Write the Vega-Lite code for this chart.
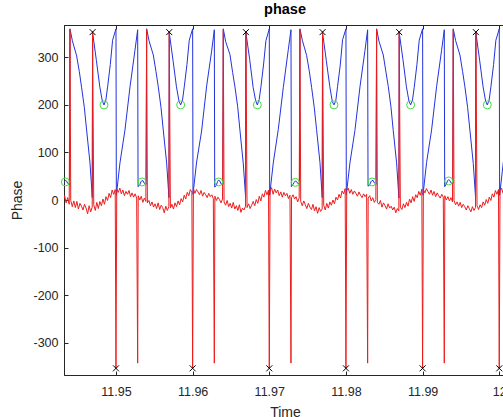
{
  "$schema": "https://vega.github.io/schema/vega-lite/v6.json",
  "width": 442,
  "height": 350,
  "autosize": {"type": "none"},
  "padding": {"left": 64, "top": 25, "right": 0, "bottom": 42},
  "background": "white",
  "title": {"text": "phase", "font": "Liberation Sans", "fontSize": 14.5, "fontWeight": "bold", "color": "#000000", "anchor": "middle", "baseline": "alphabetic", "offset": 9, "dy": 13},
  "config": {
    "view": {"stroke": "#262626", "strokeWidth": 1},
    "axis": {"labelFont": "Liberation Sans", "labelFontSize": 12.5, "labelColor": "#262626", "titleFont": "Liberation Sans", "titleFontSize": 14, "titleColor": "#262626", "titleFontWeight": "normal", "domainColor": "#262626", "tickColor": "#262626", "tickSize": -4, "grid": false}
  },
  "datasets": {
    "blue": [
      {"t":11.94288,"v":28},{"t":11.9431,"v":32},{"t":11.94325,"v":38},{"t":11.9434,"v":41},{"t":11.94355,"v":40},{"t":11.9437,"v":35},{"t":11.94394,"v":33},{"t":11.944,"v":360},{"t":11.94431,"v":335},{"t":11.94487,"v":303},{"t":11.94522,"v":270},{"t":11.94552,"v":236},{"t":11.94587,"v":195},{"t":11.94617,"v":147},{"t":11.94661,"v":78},{"t":11.94691,"v":5},{"t":11.94695,"v":352},{"t":11.94744,"v":294},{"t":11.94789,"v":238},{"t":11.94822,"v":208},{"t":11.94844,"v":200},{"t":11.94868,"v":210},{"t":11.94891,"v":238},{"t":11.94926,"v":285},{"t":11.94956,"v":336},
      {"t":11.95,"v":360},{"t":11.95005,"v":10},{"t":11.95052,"v":78},{"t":11.95117,"v":147},{"t":11.95183,"v":238},{"t":11.95248,"v":315},{"t":11.95283,"v":358},{"t":11.95288,"v":28},{"t":11.9531,"v":32},{"t":11.95325,"v":38},{"t":11.9534,"v":41},{"t":11.95355,"v":40},{"t":11.9537,"v":35},{"t":11.95394,"v":33},{"t":11.954,"v":360},{"t":11.95431,"v":335},{"t":11.95487,"v":305},{"t":11.95522,"v":270},{"t":11.95552,"v":238},{"t":11.95587,"v":195},{"t":11.95617,"v":147},{"t":11.95661,"v":78},{"t":11.95691,"v":5},{"t":11.95695,"v":352},{"t":11.95744,"v":294},{"t":11.95789,"v":238},{"t":11.95822,"v":208},{"t":11.95844,"v":200},{"t":11.95868,"v":210},{"t":11.95891,"v":238},{"t":11.95926,"v":285},{"t":11.95956,"v":336},
      {"t":11.96,"v":360},{"t":11.96005,"v":12},{"t":11.96052,"v":80},{"t":11.96117,"v":145},{"t":11.96183,"v":240},{"t":11.96248,"v":313},{"t":11.96283,"v":358},{"t":11.96288,"v":27},{"t":11.9631,"v":31},{"t":11.96325,"v":39},{"t":11.9634,"v":42},{"t":11.96355,"v":40},{"t":11.9637,"v":34},{"t":11.96394,"v":33},{"t":11.964,"v":360},{"t":11.96431,"v":333},{"t":11.96487,"v":306},{"t":11.96522,"v":268},{"t":11.96552,"v":238},{"t":11.96587,"v":197},{"t":11.96617,"v":147},{"t":11.96661,"v":76},{"t":11.96691,"v":6},{"t":11.96695,"v":352},{"t":11.96744,"v":296},{"t":11.96789,"v":237},{"t":11.96822,"v":209},{"t":11.96844,"v":200},{"t":11.96868,"v":211},{"t":11.96891,"v":238},{"t":11.96926,"v":286},{"t":11.96956,"v":335},
      {"t":11.97,"v":360},{"t":11.97005,"v":10},{"t":11.97052,"v":78},{"t":11.97117,"v":148},{"t":11.97183,"v":237},{"t":11.97248,"v":316},{"t":11.97283,"v":358},{"t":11.97288,"v":28},{"t":11.9731,"v":33},{"t":11.97325,"v":37},{"t":11.9734,"v":40},{"t":11.97355,"v":39},{"t":11.9737,"v":35},{"t":11.97394,"v":34},{"t":11.974,"v":360},{"t":11.97431,"v":336},{"t":11.97487,"v":304},{"t":11.97522,"v":271},{"t":11.97552,"v":237},{"t":11.97587,"v":194},{"t":11.97617,"v":148},{"t":11.97661,"v":79},{"t":11.97691,"v":5},{"t":11.97695,"v":352},{"t":11.97744,"v":293},{"t":11.97789,"v":239},{"t":11.97822,"v":207},{"t":11.97844,"v":200},{"t":11.97868,"v":209},{"t":11.97891,"v":239},{"t":11.97926,"v":284},{"t":11.97956,"v":337},
      {"t":11.98,"v":360},{"t":11.98005,"v":11},{"t":11.98052,"v":78},{"t":11.98117,"v":146},{"t":11.98183,"v":238},{"t":11.98248,"v":314},{"t":11.98283,"v":358},{"t":11.98288,"v":29},{"t":11.9831,"v":32},{"t":11.98325,"v":38},{"t":11.9834,"v":41},{"t":11.98355,"v":41},{"t":11.9837,"v":36},{"t":11.98394,"v":33},{"t":11.984,"v":360},{"t":11.98431,"v":334},{"t":11.98487,"v":305},{"t":11.98522,"v":269},{"t":11.98552,"v":239},{"t":11.98587,"v":196},{"t":11.98617,"v":146},{"t":11.98661,"v":78},{"t":11.98691,"v":4},{"t":11.98695,"v":352},{"t":11.98744,"v":295},{"t":11.98789,"v":238},{"t":11.98822,"v":208},{"t":11.98844,"v":200},{"t":11.98868,"v":210},{"t":11.98891,"v":237},{"t":11.98926,"v":285},{"t":11.98956,"v":336},
      {"t":11.99,"v":360},{"t":11.99005,"v":10},{"t":11.99052,"v":79},{"t":11.99117,"v":147},{"t":11.99183,"v":239},{"t":11.99248,"v":315},{"t":11.99283,"v":358},{"t":11.99288,"v":28},{"t":11.9931,"v":34},{"t":11.99325,"v":40},{"t":11.9934,"v":43},{"t":11.99355,"v":41},{"t":11.9937,"v":36},{"t":11.99394,"v":34},{"t":11.994,"v":360},{"t":11.99431,"v":335},{"t":11.99487,"v":305},{"t":11.99522,"v":270},{"t":11.99552,"v":238},{"t":11.99587,"v":195},{"t":11.99617,"v":147},{"t":11.99661,"v":77},{"t":11.99691,"v":5},{"t":11.99695,"v":352},{"t":11.99744,"v":294},{"t":11.99789,"v":238},{"t":11.99822,"v":208},{"t":11.99844,"v":200},{"t":11.99868,"v":210},{"t":11.99891,"v":238},{"t":11.99926,"v":285},{"t":11.99956,"v":336},
      {"t":12,"v":360},{"t":12.00005,"v":10},{"t":12.00052,"v":78},{"t":12.00117,"v":147}
    ],
    "red": [
      {"t":11.9429,"v":7},{"t":11.9431,"v":-3},{"t":11.9433,"v":9},{"t":11.9435,"v":-6},{"t":11.9437,"v":5},{"t":11.9439,"v":-9},{"t":11.944,"v":358},{"t":11.9441,"v":-1},{"t":11.9443,"v":-14},{"t":11.9445,"v":-2},{"t":11.9447,"v":-16},{"t":11.9449,"v":-3},{"t":11.9451,"v":-19},{"t":11.9453,"v":-7},{"t":11.9455,"v":-13},{"t":11.9457,"v":-21},{"t":11.9459,"v":-9},{"t":11.9461,"v":-17},{"t":11.9463,"v":-29},{"t":11.9465,"v":-12},{"t":11.9467,"v":-25},{"t":11.9469,"v":-15},{"t":11.94695,"v":354},{"t":11.9471,"v":-10},{"t":11.9473,"v":-22},{"t":11.9475,"v":-5},{"t":11.9477,"v":-18},{"t":11.9479,"v":-3},{"t":11.9481,"v":-12},{"t":11.9483,"v":2},{"t":11.9485,"v":-9},{"t":11.9487,"v":7},{"t":11.9489,"v":-1},{"t":11.9491,"v":14},{"t":11.9493,"v":5},{"t":11.9495,"v":21},{"t":11.9497,"v":12},{"t":11.9499,"v":22},
      {"t":11.95,"v":-354},{"t":11.9501,"v":23},{"t":11.9503,"v":16},{"t":11.9505,"v":25},{"t":11.9507,"v":13},{"t":11.9509,"v":21},{"t":11.9511,"v":9},{"t":11.9513,"v":18},{"t":11.9515,"v":12},{"t":11.9517,"v":20},{"t":11.9519,"v":7},{"t":11.9521,"v":15},{"t":11.9523,"v":6},{"t":11.9525,"v":13},{"t":11.9527,"v":4},{"t":11.95283,"v":-343},{"t":11.9529,"v":9},{"t":11.9531,"v":0},{"t":11.9533,"v":8},{"t":11.9535,"v":-5},{"t":11.9537,"v":4},{"t":11.9539,"v":-3},{"t":11.954,"v":358},{"t":11.9541,"v":-6},{"t":11.9543,"v":-1},{"t":11.9545,"v":-12},{"t":11.9547,"v":-4},{"t":11.9549,"v":-15},{"t":11.9551,"v":-8},{"t":11.9553,"v":-18},{"t":11.9555,"v":-6},{"t":11.9557,"v":-20},{"t":11.9559,"v":-11},{"t":11.9561,"v":-16},{"t":11.9563,"v":-27},{"t":11.9565,"v":-13},{"t":11.9567,"v":-22},{"t":11.9569,"v":-14},{"t":11.95695,"v":354},{"t":11.9571,"v":-17},{"t":11.9573,"v":-9},{"t":11.9575,"v":-19},{"t":11.9577,"v":-6},{"t":11.9579,"v":-14},{"t":11.9581,"v":-2},{"t":11.9583,"v":-10},{"t":11.9585,"v":3},{"t":11.9587,"v":-4},{"t":11.9589,"v":10},{"t":11.9591,"v":2},{"t":11.9593,"v":16},{"t":11.9595,"v":9},{"t":11.9597,"v":22},{"t":11.9599,"v":17},
      {"t":11.96,"v":-354},{"t":11.9601,"v":24},{"t":11.9603,"v":14},{"t":11.9605,"v":22},{"t":11.9607,"v":17},{"t":11.9609,"v":11},{"t":11.9611,"v":20},{"t":11.9613,"v":8},{"t":11.9615,"v":16},{"t":11.9617,"v":11},{"t":11.9619,"v":5},{"t":11.9621,"v":14},{"t":11.9623,"v":7},{"t":11.9625,"v":11},{"t":11.9627,"v":3},{"t":11.96283,"v":-343},{"t":11.9629,"v":8},{"t":11.9631,"v":-1},{"t":11.9633,"v":6},{"t":11.9635,"v":1},{"t":11.9637,"v":-6},{"t":11.9639,"v":2},{"t":11.964,"v":358},{"t":11.9641,"v":-4},{"t":11.9643,"v":-11},{"t":11.9645,"v":-1},{"t":11.9647,"v":-14},{"t":11.9649,"v":-7},{"t":11.9651,"v":-17},{"t":11.9653,"v":-5},{"t":11.9655,"v":-19},{"t":11.9657,"v":-12},{"t":11.9659,"v":-22},{"t":11.9661,"v":-10},{"t":11.9663,"v":-26},{"t":11.9665,"v":-17},{"t":11.9667,"v":-21},{"t":11.9669,"v":-13},{"t":11.96695,"v":354},{"t":11.9671,"v":-16},{"t":11.9673,"v":-8},{"t":11.9675,"v":-18},{"t":11.9677,"v":-11},{"t":11.9679,"v":-3},{"t":11.9681,"v":-12},{"t":11.9683,"v":1},{"t":11.9685,"v":-7},{"t":11.9687,"v":8},{"t":11.9689,"v":-2},{"t":11.9691,"v":13},{"t":11.9693,"v":6},{"t":11.9695,"v":20},{"t":11.9697,"v":11},{"t":11.9699,"v":21},
      {"t":11.97,"v":-354},{"t":11.9701,"v":18},{"t":11.9703,"v":26},{"t":11.9705,"v":12},{"t":11.9707,"v":23},{"t":11.9709,"v":15},{"t":11.9711,"v":21},{"t":11.9713,"v":9},{"t":11.9715,"v":17},{"t":11.9717,"v":6},{"t":11.9719,"v":16},{"t":11.9721,"v":9},{"t":11.9723,"v":14},{"t":11.9725,"v":3},{"t":11.9727,"v":10},{"t":11.97283,"v":-343},{"t":11.9729,"v":5},{"t":11.9731,"v":11},{"t":11.9733,"v":2},{"t":11.9735,"v":7},{"t":11.9737,"v":-4},{"t":11.9739,"v":4},{"t":11.974,"v":358},{"t":11.9741,"v":-3},{"t":11.9743,"v":-12},{"t":11.9745,"v":-2},{"t":11.9747,"v":-10},{"t":11.9749,"v":-18},{"t":11.9751,"v":-7},{"t":11.9753,"v":-15},{"t":11.9755,"v":-20},{"t":11.9757,"v":-9},{"t":11.9759,"v":-23},{"t":11.9761,"v":-14},{"t":11.9763,"v":-28},{"t":11.9765,"v":-16},{"t":11.9767,"v":-24},{"t":11.9769,"v":-19},{"t":11.97695,"v":354},{"t":11.9771,"v":-11},{"t":11.9773,"v":-21},{"t":11.9775,"v":-7},{"t":11.9777,"v":-17},{"t":11.9779,"v":-4},{"t":11.9781,"v":-11},{"t":11.9783,"v":0},{"t":11.9785,"v":-8},{"t":11.9787,"v":6},{"t":11.9789,"v":0},{"t":11.9791,"v":12},{"t":11.9793,"v":4},{"t":11.9795,"v":19},{"t":11.9797,"v":13},{"t":11.9799,"v":24},
      {"t":11.98,"v":-354},{"t":11.9801,"v":20},{"t":11.9803,"v":25},{"t":11.9805,"v":14},{"t":11.9807,"v":22},{"t":11.9809,"v":12},{"t":11.9811,"v":19},{"t":11.9813,"v":14},{"t":11.9815,"v":8},{"t":11.9817,"v":17},{"t":11.9819,"v":10},{"t":11.9821,"v":5},{"t":11.9823,"v":13},{"t":11.9825,"v":7},{"t":11.9827,"v":12},{"t":11.98283,"v":-343},{"t":11.9829,"v":4},{"t":11.9831,"v":9},{"t":11.9833,"v":-2},{"t":11.9835,"v":5},{"t":11.9837,"v":-5},{"t":11.9839,"v":1},{"t":11.984,"v":358},{"t":11.9841,"v":-5},{"t":11.9843,"v":-9},{"t":11.9845,"v":-1},{"t":11.9847,"v":-15},{"t":11.9849,"v":-6},{"t":11.9851,"v":-12},{"t":11.9853,"v":-19},{"t":11.9855,"v":-8},{"t":11.9857,"v":-17},{"t":11.9859,"v":-13},{"t":11.9861,"v":-21},{"t":11.9863,"v":-15},{"t":11.9865,"v":-27},{"t":11.9867,"v":-18},{"t":11.9869,"v":-23},{"t":11.98695,"v":354},{"t":11.9871,"v":-15},{"t":11.9873,"v":-20},{"t":11.9875,"v":-8},{"t":11.9877,"v":-16},{"t":11.9879,"v":-5},{"t":11.9881,"v":-13},{"t":11.9883,"v":2},{"t":11.9885,"v":-6},{"t":11.9887,"v":7},{"t":11.9889,"v":-3},{"t":11.9891,"v":11},{"t":11.9893,"v":5},{"t":11.9895,"v":18},{"t":11.9897,"v":10},{"t":11.9899,"v":23},
      {"t":11.99,"v":-354},{"t":11.9901,"v":22},{"t":11.9903,"v":15},{"t":11.9905,"v":24},{"t":11.9907,"v":18},{"t":11.9909,"v":12},{"t":11.9911,"v":21},{"t":11.9913,"v":10},{"t":11.9915,"v":18},{"t":11.9917,"v":7},{"t":11.9919,"v":15},{"t":11.9921,"v":9},{"t":11.9923,"v":4},{"t":11.9925,"v":12},{"t":11.9927,"v":6},{"t":11.99283,"v":-343},{"t":11.9929,"v":9},{"t":11.9931,"v":0},{"t":11.9933,"v":7},{"t":11.9935,"v":-2},{"t":11.9937,"v":5},{"t":11.9939,"v":-4},{"t":11.994,"v":358},{"t":11.9941,"v":-1},{"t":11.9943,"v":-10},{"t":11.9945,"v":-4},{"t":11.9947,"v":-13},{"t":11.9949,"v":-5},{"t":11.9951,"v":-16},{"t":11.9953,"v":-9},{"t":11.9955,"v":-14},{"t":11.9957,"v":-21},{"t":11.9959,"v":-12},{"t":11.9961,"v":-18},{"t":11.9963,"v":-25},{"t":11.9965,"v":-14},{"t":11.9967,"v":-22},{"t":11.9969,"v":-16},{"t":11.99695,"v":354},{"t":11.9971,"v":-12},{"t":11.9973,"v":-20},{"t":11.9975,"v":-10},{"t":11.9977,"v":-16},{"t":11.9979,"v":-4},{"t":11.9981,"v":-11},{"t":11.9983,"v":1},{"t":11.9985,"v":-7},{"t":11.9987,"v":6},{"t":11.9989,"v":-1},{"t":11.9991,"v":13},{"t":11.9993,"v":6},{"t":11.9995,"v":20},{"t":11.9997,"v":12},{"t":11.9999,"v":22},
      {"t":12,"v":-354},{"t":12.0001,"v":19},{"t":12.0003,"v":25},{"t":12.0005,"v":14},{"t":12.0007,"v":22},{"t":12.0009,"v":13},{"t":12.0011,"v":19}
    ],
    "circles": [
      {"t":11.9434,"v":38},{"t":11.94844,"v":200},{"t":11.9534,"v":38},{"t":11.95844,"v":200},{"t":11.9634,"v":38},{"t":11.96844,"v":200},{"t":11.9734,"v":37},{"t":11.97844,"v":200},{"t":11.9834,"v":38},{"t":11.98844,"v":200},{"t":11.9934,"v":40},{"t":11.99844,"v":200}
    ],
    "xmarks": [
      {"t":11.94695,"v":353},{"t":11.95695,"v":353},{"t":11.96695,"v":353},{"t":11.97695,"v":353},{"t":11.98695,"v":353},{"t":11.99695,"v":353},
      {"t":11.95,"v":-354},{"t":11.96,"v":-354},{"t":11.97,"v":-354},{"t":11.98,"v":-354},{"t":11.99,"v":-354},{"t":12,"v":-354}
    ]
  },
  "layer": [
    {
      "data": {"name": "blue"},
      "mark": {"type": "line", "color": "#2233dd", "strokeWidth": 1, "clip": true},
      "encoding": {
        "x": {"field": "t", "type": "quantitative", "scale": {"domain": [11.94322, 12.00088], "nice": false, "zero": false},
              "axis": {"orient": "bottom", "values": [11.95, 11.96, 11.97, 11.98, 11.99, 12], "labelExpr": "'' + datum.value", "title": "Time", "labelPadding": 14, "titlePadding": 8}},
        "y": {"field": "v", "type": "quantitative", "scale": {"domain": [-368, 368], "nice": false, "zero": false},
              "axis": {"orient": "left", "values": [-300, -200, -100, 0, 100, 200, 300], "labelExpr": "'' + datum.value", "title": "Phase", "labelPadding": 10, "titlePadding": 8}}
      }
    },
    {
      "data": {"name": "red"},
      "mark": {"type": "line", "color": "#ee1c1c", "strokeWidth": 1, "clip": true},
      "encoding": {
        "x": {"field": "t", "type": "quantitative", "axis": {"orient": "top", "values": [11.95, 11.96, 11.97, 11.98, 11.99, 12], "labels": false, "title": null}},
        "y": {"field": "v", "type": "quantitative"}
      }
    },
    {
      "data": {"name": "circles"},
      "mark": {"type": "point", "shape": "circle", "filled": false, "stroke": "#44dd44", "strokeWidth": 1, "size": 64, "opacity": 1},
      "encoding": {
        "x": {"field": "t", "type": "quantitative", "axis": null},
        "y": {"field": "v", "type": "quantitative"}
      }
    },
    {
      "data": {"name": "xmarks"},
      "mark": {"type": "point", "shape": "M-1,-1L1,1M-1,1L1,-1", "filled": false, "stroke": "#000000", "strokeWidth": 1, "size": 36, "opacity": 1},
      "encoding": {
        "x": {"field": "t", "type": "quantitative", "axis": null},
        "y": {"field": "v", "type": "quantitative"}
      }
    }
  ]
}
